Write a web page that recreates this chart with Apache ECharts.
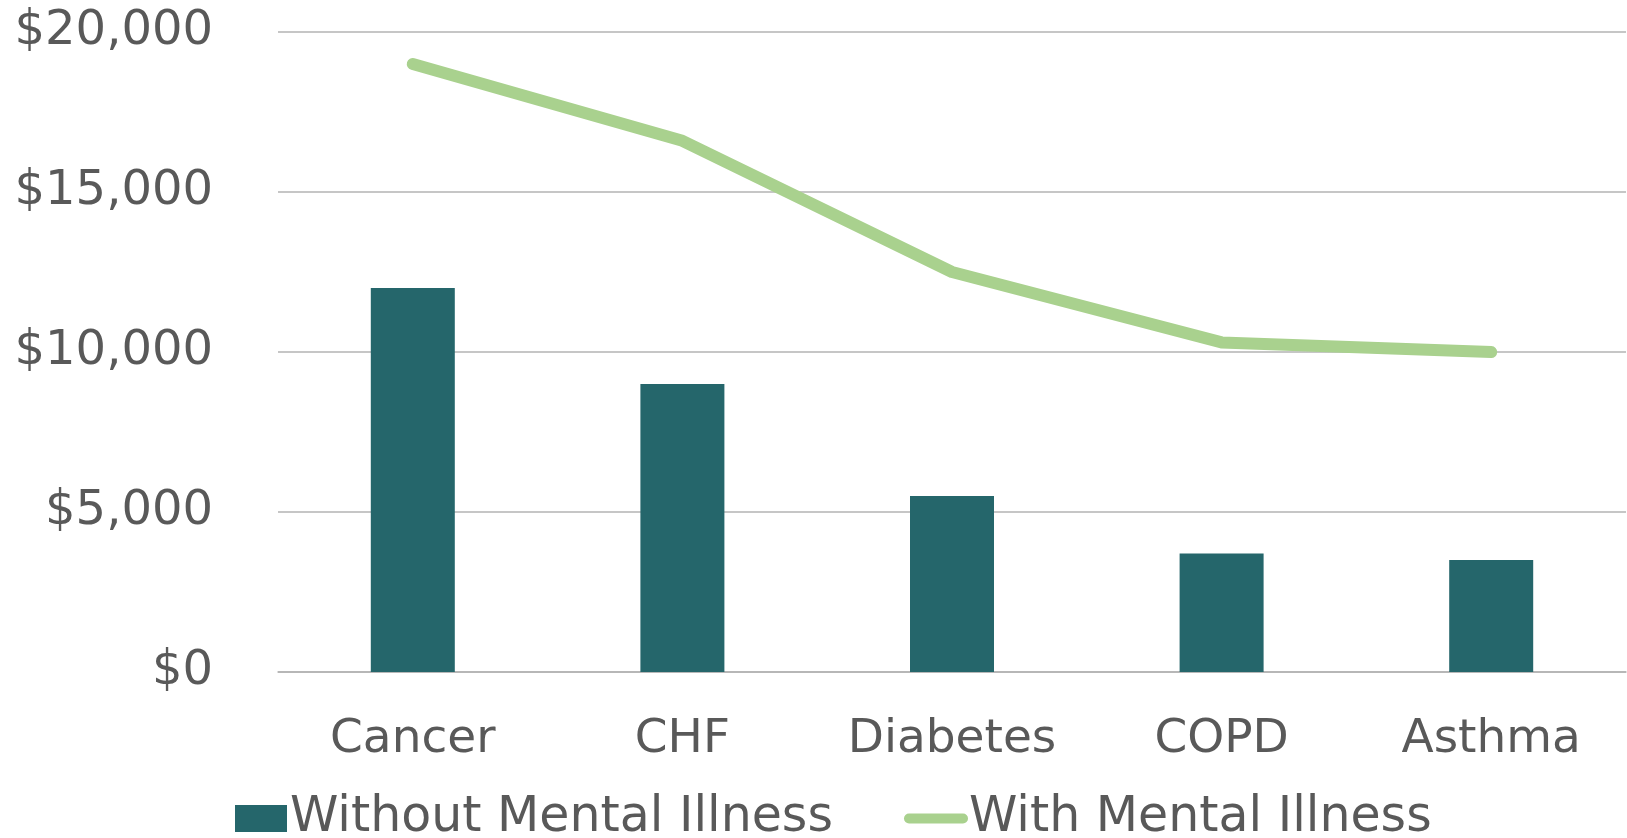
<!DOCTYPE html>
<html>
<head>
<meta charset="utf-8">
<title>Costs with and without mental illness</title>
<script src="https://cdn.jsdelivr.net/npm/echarts@6/dist/echarts.min.js"></script>
<style>
  html, body { margin: 0; padding: 0; background: #fff; }
  #chart { width: 1627px; height: 838px; }
</style>
</head>
<body>
<div id="chart"></div>
<script>
  // categories and values
  var categories = ['Cancer', 'CHF', 'Diabetes', 'COPD', 'Asthma']
  var withoutMental = [12000, 9000, 5500, 3700, 3500]
  var withMental = [19000, 16600, 12500, 10300, 10000]
  var yTicks = [0, 5000, 10000, 15000, 20000]

  var textColor = '#595959'
  var fontFamily = 'DejaVu Sans'
  var fontSize = 47
  var legendFontSize = 49

  var chart = echarts.init(document.getElementById('chart'))

  chart.setOption({
    animation: false,
    textStyle: { fontFamily: fontFamily, color: textColor },
    grid: {
      left: 278,
      right: 1,
      top: 32,
      bottom: 166
    },
    legend: [{
      data: ['Without Mental Illness'],
      left: 230,
      top: 789,
      itemWidth: 52,
      itemHeight: 27,
      icon: 'rect',
      textStyle: { fontSize: legendFontSize, color: textColor, fontFamily: fontFamily, padding: [0, 0, 0, -2] }
    }, {
      data: ['With Mental Illness'],
      left: 899,
      top: 789,
      itemWidth: 64,
      itemHeight: 12,
      icon: 'path://M5,0 L59,0 A5,5 0 0 1 59,10 L5,10 A5,5 0 0 1 5,0 Z',
      textStyle: { fontSize: legendFontSize, color: textColor, fontFamily: fontFamily, padding: [0, 0, 0, -4] }
    }],
    xAxis: {
      type: 'category',
      data: categories,
      axisTick: { show: false },
      axisLine: { lineStyle: { color: '#b3b3b3', width: 1.5 } },
      axisLabel: {
        interval: 0,
        margin: 44,
        fontSize: fontSize,
        color: textColor,
        fontFamily: fontFamily
      }
    },
    yAxis: {
      type: 'value',
      min: yTicks[0],
      max: yTicks[yTicks.length - 1],
      interval: yTicks[1] - yTicks[0],
      axisLine: { show: false },
      axisTick: { show: false },
      splitLine: { lineStyle: { color: '#b3b3b3', width: 1.5 } },
      axisLabel: {
        margin: 65,
        fontSize: 48,
        color: textColor,
        fontFamily: fontFamily,
        formatter: function (v) {
          return '$' + v.toLocaleString('en-US')
        }
      }
    },
    series: [{
      name: 'Without Mental Illness',
      type: 'bar',
      data: withoutMental,
      barWidth: 84,
      itemStyle: { color: '#25666b' }
    }, {
      name: 'With Mental Illness',
      type: 'line',
      data: withMental,
      symbol: 'none',
      itemStyle: { color: '#a9d18e' },
      lineStyle: { color: '#a9d18e', width: 12, cap: 'round', join: 'round' }
    }]
  })
</script>
</body>
</html>
